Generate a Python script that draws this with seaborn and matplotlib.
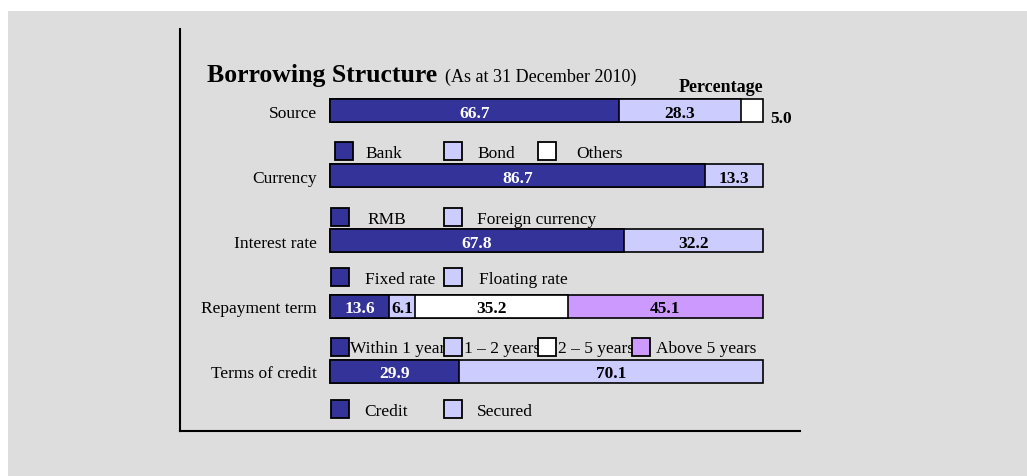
import matplotlib
matplotlib.use("Agg")
import matplotlib.pyplot as plt
from matplotlib.patches import Rectangle
import seaborn as sns
import pandas as pd
import numpy as np

# ---------------- data ----------------
categories = ["Source", "Currency", "Interest rate", "Repayment term", "Terms of credit"]
source_vals = [66.7, 28.3, 5.0]
currency_vals = [86.7, 13.3]
interest_vals = [67.8, 32.2]
repayment_vals = [13.6, 6.1, 35.2, 45.1]
credit_vals = [29.9, 70.1]

source_labels = ["Bank", "Bond", "Others"]
currency_labels = ["RMB", "Foreign currency"]
interest_labels = ["Fixed rate", "Floating rate"]
repayment_labels = ["Within 1 year", "1 – 2 years", "2 – 5 years", "Above 5 years"]
credit_labels = ["Credit", "Secured"]

title_main = "Borrowing Structure"
title_sub = "(As at 31 December 2010)"
unit_label = "Percentage"

series = [source_vals, currency_vals, interest_vals, repayment_vals, credit_vals]
seg_colors = ["#333399", "#ccccff", "#ffffff", "#cc99ff"]
text_colors = ["white", "black", "black", "black"]

# ---------------- figure ----------------
W, H = 1027, 477
sns.set_theme(style="white")
plt.rcParams["font.family"] = ["Liberation Serif", "DejaVu Serif"]
plt.rcParams["text.color"] = "black"
plt.rcParams["axes.labelcolor"] = "black"
plt.rcParams["xtick.color"] = "black"
plt.rcParams["ytick.color"] = "black"

fig = plt.figure(figsize=(W / 100, H / 100), dpi=100)
fig.patch.set_facecolor("white")
fig.add_artist(Rectangle((8 / W, 0), 1 - 8 / W, 1 - 12 / H, transform=fig.transFigure,
                         facecolor="#dddddd", edgecolor="none", zorder=-10))

def fx(px):
    return px / W

def fy(py):
    return 1 - py / H

ax_l, ax_r, ax_t, ax_b = 179.5, 800, 30, 431.5
ax = fig.add_axes([fx(ax_l), fy(ax_b), fx(ax_r) - fx(ax_l), (ax_b - ax_t) / H])
ax.set_facecolor("none")

# stacked bars: draw cumulative layers from outermost to innermost
rows = []
for cat, vals in zip(categories, series):
    cum = np.cumsum(vals)
    for k, c in enumerate(cum):
        rows.append({"category": cat, "layer": k, "cum": c})
df = pd.DataFrame(rows)

for k in range(3, -1, -1):
    sub = df[df["layer"] == k]
    sns.barplot(data=sub, x="cum", y="category", order=categories, orient="h",
                color=seg_colors[k], saturation=1, width=0.35, errorbar=None,
                edgecolor="black", linewidth=1.2, ax=ax)

# value labels
for i, vals in enumerate(series):
    cum = np.cumsum(vals)
    starts = cum - np.array(vals)
    for k, v in enumerate(vals):
        if v < 5.5:
            ax.annotate(f"{v:.1f}", xy=(cum[k], i), xytext=(5, -4), textcoords="offset points",
                        ha="left", va="center_baseline", fontsize=12.5, fontweight="bold",
                        color="black")
        else:
            ax.text(starts[k] + v / 2, i, f"{v:.1f}", ha="center", va="center_baseline",
                    fontsize=12.5, fontweight="bold", color=text_colors[k])

px_per_unit = (763 - 330) / 100
ax.set_xlim(-(330 - ax_l) / px_per_unit, 100 + (ax_r - 763) / px_per_unit)
row_c0, row_step = 111.5, 65.2
ax.set_ylim((ax_b - row_c0) / row_step, -(row_c0 - ax_t) / row_step)

ax.set_xlabel("")
ax.set_ylabel("")
ax.set_xticks([])
ax.set_yticks(range(len(categories)))
ax.set_yticklabels(categories, fontsize=12.5, color="black")
ax.tick_params(axis="y", length=0, pad=-(317 - ax_l) * 0.72)
for s in ["top", "right"]:
    ax.spines[s].set_visible(False)
for s in ["left", "bottom"]:
    ax.spines[s].set_visible(True)
    ax.spines[s].set_color("black")
    ax.spines[s].set_linewidth(1.5)

# titles
fig.text(fx(207), fy(82), title_main, fontsize=18.5, fontweight="bold", va="baseline",
         ha="left", color="black")
fig.text(fx(445), fy(82), title_sub, fontsize=13, va="baseline", ha="left", color="black")
fig.text(fx(763), fy(92), unit_label, fontsize=13, fontweight="bold", va="baseline",
         ha="right", color="black")

# legends (layout positions in pixels)
legend_rows = [
    (source_labels, 152, [(335, 365), (444, 477), (538, 576)]),
    (currency_labels, 218, [(331, 367), (444, 477)]),
    (interest_labels, 277.5, [(331, 365), (444, 479)]),
    (repayment_labels, 347.5, [(331, 350), (444, 464), (538, 558), (632, 656)]),
    (credit_labels, 410, [(331, 364), (444, 477)]),
]
sq = 18
for labels, yc, pos in legend_rows:
    for k, (lab, (sx, tx)) in enumerate(zip(labels, pos)):
        fig.add_artist(Rectangle((fx(sx), fy(yc + sq / 2)), sq / W, sq / H,
                                 transform=fig.transFigure, facecolor=seg_colors[k],
                                 edgecolor="black", linewidth=1.3, zorder=3))
        fig.text(fx(tx), fy(yc), lab, fontsize=12.5, ha="left", va="center_baseline",
                 zorder=2, color="black")

fig.savefig("out.png", dpi=100, facecolor=fig.get_facecolor())
